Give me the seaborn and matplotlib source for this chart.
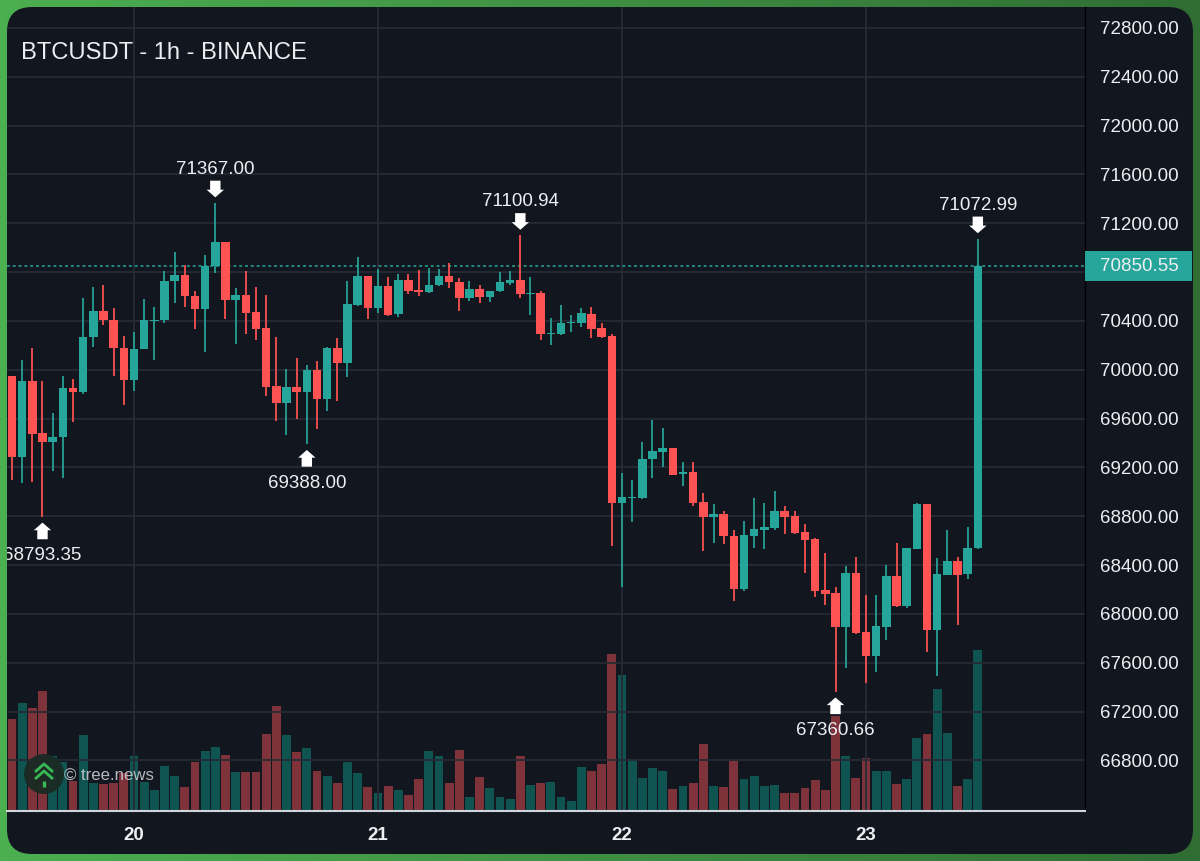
import numpy as np
import pandas as pd
import matplotlib.pyplot as plt
import seaborn as sns
from matplotlib.colors import LinearSegmentedColormap
from matplotlib.patches import FancyBboxPatch, Rectangle, Circle

# hourly candles
opens = [69951, 69282, 69905, 69479, 69405, 69451, 69850, 69815, 70268, 70478, 70410, 70180,
         69918, 70170, 70399, 70405, 70727, 70778, 70606, 70495, 70847, 71044, 70574, 70612,
         70470, 70342, 69864, 69725, 69856, 69820, 69995, 69760, 70175, 70052, 70528, 70765,
         70503, 70683, 70454, 70737, 70653, 70634, 70691, 70770, 70721, 70585, 70659, 70598,
         70645, 70713, 70735, 70620, 70626, 70292, 70290, 70380, 70383, 70459, 70342, 70276,
         68905, 68949, 68949, 69266, 69328, 69356, 69143, 69162, 68919, 68793, 68820, 68638,
         68201, 68640, 68689, 68701, 68842, 68801, 68668, 68613, 68195, 68168, 67892, 68332,
         67853, 67654, 67892, 68312, 68062, 68531, 68897, 67865, 68320, 68433, 68324, 68537]
closes = [69282, 69905, 69473, 69405, 69451, 69848, 69815, 70270, 70478, 70405, 70175, 69918,
          70172, 70405, 70410, 70729, 70776, 70601, 70495, 70852, 71044, 70574, 70612, 70467,
          70333, 69858, 69725, 69856, 69820, 69995, 69760, 70178, 70052, 70536, 70765, 70503,
          70683, 70451, 70735, 70647, 70634, 70694, 70770, 70716, 70585, 70659, 70598, 70645,
          70719, 70735, 70620, 70626, 70292, 70301, 70383, 70388, 70462, 70333, 70265, 68905,
          68955, 68959, 69271, 69334, 69356, 69140, 69162, 68910, 68793, 68820, 68635, 68203,
          68646, 68695, 68709, 68842, 68793, 68660, 68605, 68189, 68162, 67892, 68332, 67843,
          67654, 67898, 68312, 68062, 68537, 68900, 67865, 68326, 68433, 68320, 68542, 70850.55]
highs = [69951, 70080, 70175, 69910, 69643, 69951, 69924, 70590, 70675, 70696, 70503, 70276,
         70306, 70582, 70514, 70806, 70967, 70858, 70647, 70937, 71367.00, 71044, 70667, 70806,
         70680, 70612, 70265, 70003, 70098, 70039, 70071, 70188, 70260, 70724, 70921, 70765,
         70823, 70757, 70784, 70784, 70817, 70836, 70827, 70877, 70749, 70729, 70694, 70645,
         70800, 70806, 71100.94, 70759, 70645, 70421, 70528, 70446, 70508, 70516, 70385, 70290,
         69154, 69096, 69405, 69585, 69522, 69356, 69244, 69244, 68987, 68900, 68842, 68687,
         68758, 68951, 68910, 69004, 68881, 68842, 68736, 68619, 68496, 68222, 68392, 68468,
         68154, 68154, 68397, 68578, 68542, 68910, 68897, 68460, 68689, 68468, 68711, 71072.99]
lows = [69096, 69074, 69082, 68793.35, 69173, 69115, 69574, 69798, 70188, 70364, 69948, 69711,
        69828, 70170, 70080, 70380, 70549, 70516, 70333, 70147, 70795, 70413, 70213, 70295,
        70243, 69787, 69580, 69465, 69599, 69388.00, 69514, 69664, 69744, 69943, 70522, 70418,
        70462, 70440, 70429, 70620, 70606, 70628, 70683, 70672, 70481, 70565, 70549, 70557,
        70639, 70696, 70587, 70448, 70246, 70202, 70282, 70311, 70352, 70257, 70260, 68556,
        68220, 68752, 68941, 69113, 69200, 69137, 69050, 68886, 68515, 68578, 68572, 68105,
        68189, 68537, 68529, 68689, 68654, 68654, 68337, 68135, 68072, 67360.66, 67558, 67832,
        67436, 67526, 67785, 68053, 68045, 68531, 67685, 67490, 68316, 67906, 68288, 68533]
# volume in arbitrary units (no scale on the chart)
volumes = [91.3, 107.7, 102.3, 119.3, 54.3, 48.3, 29.3, 75.3, 27.7, 27.0, 28.0, 37.7,
           55.0, 29.0, 20.3, 45.0, 34.7, 24.0, 48.3, 59.3, 63.3, 56.0, 39.0, 39.0,
           39.0, 77.0, 105.0, 75.3, 58.3, 62.7, 40.0, 34.3, 28.0, 48.7, 37.3, 24.0,
           17.7, 24.7, 20.3, 15.3, 31.3, 59.3, 54.3, 28.0, 60.3, 13.3, 34.0, 23.0,
           13.3, 12.0, 55.0, 25.3, 28.0, 29.0, 13.3, 9.3, 44.0, 40.0, 46.3, 156.7,
           136.0, 51.7, 32.3, 42.3, 40.0, 21.3, 24.7, 28.0, 66.3, 24.7, 23.3, 50.0,
           31.3, 34.7, 24.7, 25.3, 17.3, 17.3, 22.3, 30.3, 20.3, 94.3, 54.3, 32.3,
           52.7, 40.0, 40.0, 27.0, 31.3, 73.0, 77.0, 122.0, 78.0, 24.7, 31.3, 160.3]

day_ticks = [12, 36, 60, 84]
day_labels = ['20', '21', '22', '23']
price_ticks = list(range(66800, 73200, 400))
last_price = 70850.55
high_marks = [20, 50, 95]
low_marks = [3, 29, 81]

UP = '#26a69a'
DOWN = '#ff5252'
UP_VOL = '#0f5450'
DOWN_VOL = '#7e333a'
PANEL = '#12161f'
GRID = '#272b35'
TEXT = '#eceef1'

sns.set_theme(style='dark', rc={'axes.facecolor': 'none', 'figure.facecolor': PANEL})
plt.rcParams['font.family'] = ['Liberation Sans', 'DejaVu Sans']

df = pd.DataFrame({'hour': range(len(opens)), 'open': opens, 'close': closes,
                   'high': highs, 'low': lows, 'volume': volumes})
df['direction'] = np.where(df['close'] >= df['open'], 'up', 'down')

fig = plt.figure(figsize=(12, 8.61), dpi=100)

# green frame and rounded panel, in pixel coordinates
bg = fig.add_axes([0, 0, 1, 1], zorder=-2)
frame = LinearSegmentedColormap.from_list('frame', ['#4caf50', '#3f8f43', '#2f6d33'])
bg.imshow(np.linspace(0, 1, 256).reshape(1, -1), cmap=frame, aspect='auto', extent=[0, 1200, 861, 0])
bg.add_patch(FancyBboxPatch((7, 7), 1186, 847, boxstyle='round,pad=0,rounding_size=25',
                            facecolor=PANEL, edgecolor='none'))
bg.set_xlim(0, 1200)
bg.set_ylim(861, 0)
bg.axis('off')

rect = [7 / 1200, (861 - 810.5) / 861, 1078 / 1200, 803.5 / 861]
xlim = (-0.49, 105.54)

# volume sits behind the grid and the candles
ax_vol = fig.add_axes(rect, zorder=1)
sns.barplot(data=df, x='hour', y='volume', hue='direction', native_scale=True,
            palette={'up': UP_VOL, 'down': DOWN_VOL}, dodge=False, width=0.86,
            saturation=1, linewidth=0, legend=False, ax=ax_vol)
ax_vol.set_xlim(xlim)
ax_vol.set_ylim(0, 803.5)
ax_vol.axis('off')

ax = fig.add_axes(rect, zorder=2)
ax.set_xlim(xlim)
ax.set_ylim(66389, 72972)
ax.grid(True, color=GRID, linewidth=1.3)
ax.set_axisbelow(True)

colors = [UP if d == 'up' else DOWN for d in df['direction']]
ax.vlines(df['hour'], df['low'], df['high'], colors=colors, linewidth=1.25, zorder=3)
body_low = df[['open', 'close']].min(axis=1)
body_h = (df['open'] - df['close']).abs().clip(lower=10)
ax.bar(df['hour'], body_h, bottom=body_low, width=0.84, color=colors, linewidth=0, zorder=3)

# last price line
ax.axhline(last_price, color=UP, linewidth=1.1, dashes=(1.9, 1.9), zorder=2.5)

# high and low markers
for kind, marks, values in [('high', high_marks, highs), ('low', low_marks, lows)]:
    sign = 1 if kind == 'high' else -1
    text_off = 24.3 if kind == 'high' else -28
    for i in marks:
        ax.annotate('', xy=(i, values[i]), xytext=(0, sign * 16), textcoords='offset points',
                    arrowprops=dict(arrowstyle='simple,head_length=0.55,head_width=1.25,tail_width=0.75',
                                    mutation_scale=10, facecolor='white', edgecolor='none', linewidth=0,
                                    shrinkA=0, shrinkB=4), zorder=5)
        ax.annotate(f'{values[i]:.2f}', xy=(i, values[i]), xytext=(0, text_off),
                    textcoords='offset points', ha='center', va='center', color=TEXT,
                    fontsize=13.5, clip_on=True, zorder=5)

ax.yaxis.tick_right()
# the tick next to the last price is hidden by the price tag
ax.set_yticks(price_ticks, ['' if abs(p - last_price) < 100 else f'{p:.2f}' for p in price_ticks])
ax.set_xticks(day_ticks, day_labels)
ax.set(xlabel='', ylabel='')
ax.tick_params(axis='y', length=5, width=1, color='black', labelcolor=TEXT, labelsize=13.5, pad=6)
ax.tick_params(axis='x', length=4, width=1, color='#d0d4dc', labelcolor=TEXT, labelsize=13.5, pad=8)
for label in ax.get_xticklabels():
    label.set_fontweight('bold')
sns.despine(ax=ax, left=True, top=True, right=False, bottom=False)
ax.spines['right'].set(color='black', linewidth=1)
ax.spines['bottom'].set(color='#d0d4dc', linewidth=1.5)
ax.text(21, 53, 'BTCUSDT - 1h - BINANCE', transform=bg.transData, color=TEXT, fontsize=17.1,
        va='center', ha='left')

# price tag and watermark, in pixel coordinates
top = fig.add_axes([0, 0, 1, 1], zorder=3)
top.set_xlim(0, 1200)
top.set_ylim(861, 0)
top.axis('off')
tag_y = 266
top.add_patch(Rectangle((1085, tag_y - 15), 107, 30, facecolor=UP, edgecolor='none'))
top.text(1100, tag_y + 0.5, f'{last_price:.2f}', color=TEXT, fontsize=13.5, va='center', ha='left')

top.add_patch(Circle((44, 774), 20, facecolor='#1a2a24', edgecolor='none', alpha=0.95))
for cy in (771, 778):
    top.plot([35, 44, 53], [cy + 1, cy - 7, cy + 1], color='#37b955', linewidth=2, solid_capstyle='butt')
top.plot([44, 44], [781, 787], color='#37b955', linewidth=2.4, solid_capstyle='butt')
top.text(64, 776, '© tree.news', color='#c9ccd1', fontsize=12.1, va='center', ha='left', alpha=0.9)

plt.savefig('out.png', dpi=100)
